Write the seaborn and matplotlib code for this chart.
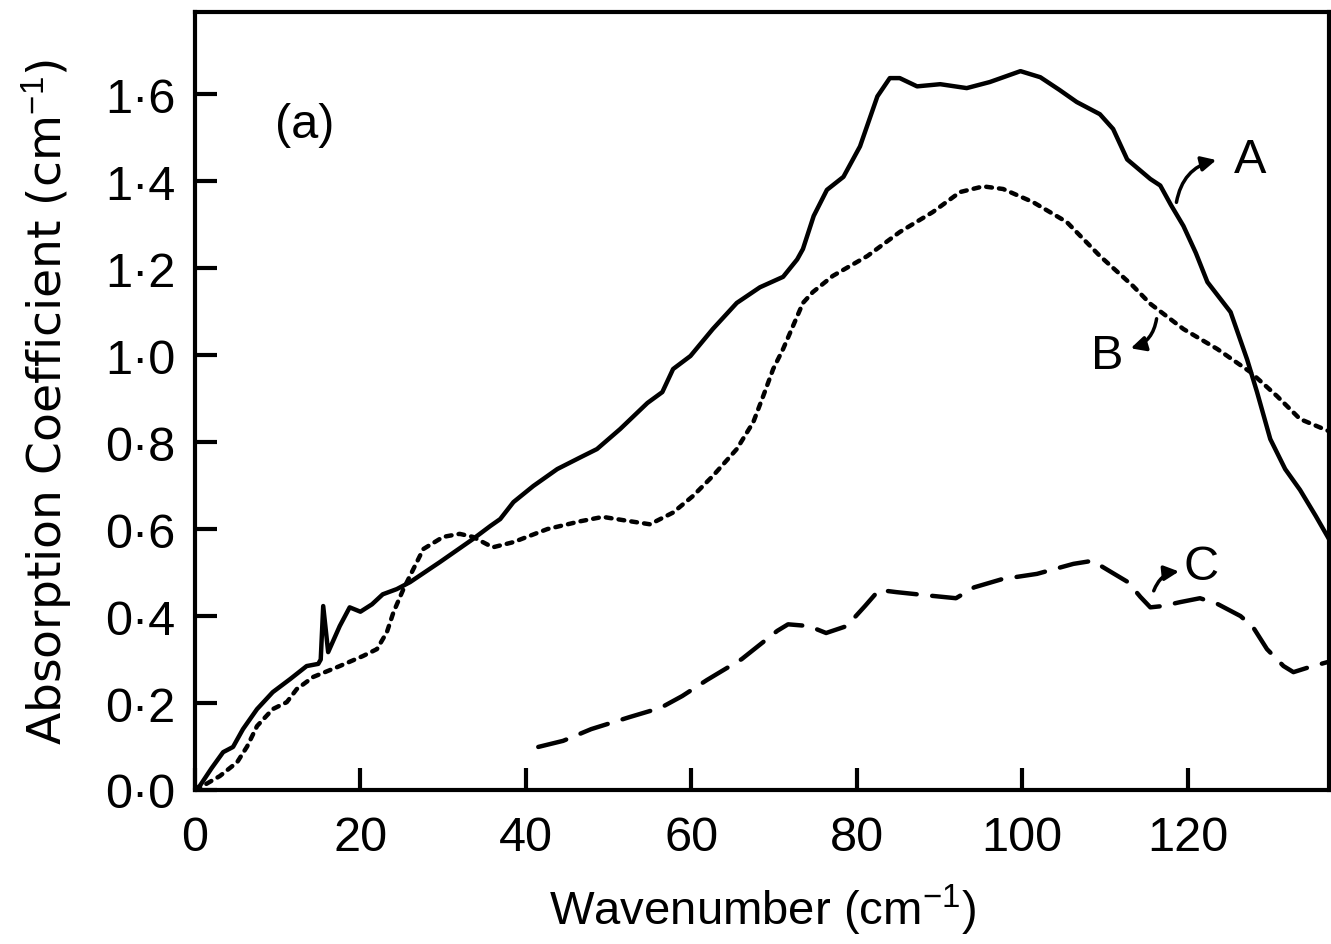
import numpy as np
import pandas as pd
import matplotlib
matplotlib.use("Agg")
import matplotlib.pyplot as plt
import seaborn as sns

# ---- data ----
A_x = [0, 0.6, 2.0, 3.4, 4.6, 5.8, 7.5, 9.4, 11.5, 13.5, 14.9, 15.2, 15.5, 16.1, 17.5, 18.7, 20.0,
       21.4, 22.7, 24.4, 26.0, 29.6, 33.6, 35.7, 36.9, 38.5, 40.9, 43.8, 46.6, 48.6, 51.4, 54.7,
       56.5, 57.8, 59.9, 62.6, 65.5, 68.3, 71.1, 72.8, 73.5, 74.8, 76.4, 78.4, 80.4, 82.5, 84.0,
       85.2, 87.3, 90.1, 93.3, 96.1, 99.8, 102.2, 104.5, 106.6, 109.4, 111.0, 112.7, 115.5, 116.7,
       118.0, 119.5, 121.0, 122.4, 125.2, 127.2, 128.4, 130.0, 131.8, 133.6, 135.5, 137.1]
A_y = [0, 0.01, 0.05, 0.087, 0.099, 0.14, 0.186, 0.225, 0.255, 0.285, 0.29, 0.30, 0.423, 0.317,
       0.377, 0.42, 0.41, 0.427, 0.45, 0.462, 0.478, 0.524, 0.577, 0.607, 0.623, 0.662, 0.699,
       0.738, 0.765, 0.784, 0.83, 0.89, 0.915, 0.968, 0.998, 1.06, 1.12, 1.156, 1.18, 1.22, 1.244,
       1.32, 1.38, 1.41, 1.48, 1.595, 1.637, 1.637, 1.618, 1.623, 1.614, 1.628, 1.653, 1.639,
       1.61, 1.582, 1.554, 1.52, 1.45, 1.405, 1.39, 1.345, 1.297, 1.235, 1.168, 1.099, 0.99,
       0.915, 0.807, 0.738, 0.69, 0.63, 0.577]

B_x = [0, 1.0, 3.0, 5.1, 6.3, 7.5, 9.4, 11.1, 12.3, 14.3, 17.5, 20.3, 22.0, 23.2, 24.0, 25.2,
       26.4, 27.6, 30.0, 32.0, 33.6, 36.0, 38.5, 42.6, 46.6, 49.3, 52.6, 55.0, 57.8, 60.2, 62.6,
       65.5, 67.5, 68.7, 69.9, 71.1, 72.3, 73.5, 74.7, 77.1, 81.3, 85.2, 89.2, 92.5, 95.3, 97.7,
       101.3, 105.4, 109.4, 113.4, 115.5, 119.5, 123.6, 127.6, 130.8, 133.6, 137.1]
B_y = [0, 0.01, 0.032, 0.064, 0.1, 0.147, 0.186, 0.202, 0.232, 0.26, 0.285, 0.308, 0.324, 0.363,
       0.409, 0.462, 0.508, 0.554, 0.582, 0.589, 0.582, 0.558, 0.57, 0.6, 0.618, 0.628, 0.618,
       0.611, 0.638, 0.676, 0.722, 0.784, 0.846, 0.906, 0.968, 1.014, 1.067, 1.12, 1.145, 1.182,
       1.228, 1.283, 1.329, 1.375, 1.388, 1.382, 1.352, 1.306, 1.228, 1.159, 1.118, 1.06, 1.014,
       0.961, 0.906, 0.853, 0.825]

C_x = [41.5, 44.5, 47.9, 52.6, 56.3, 58.9, 61.9, 66.1, 70.4, 71.7, 74.2, 76.3, 78.8, 81.0, 82.7,
       84.8, 88.3, 92.0, 94.2, 97.6, 101.8, 106.2, 108.5, 110.6, 112.8, 114.3, 115.5, 117.0,
       119.1, 121.5, 123.6, 126.4, 127.9, 129.6, 131.6, 132.8, 134.8, 136.9]
C_y = [0.099, 0.113, 0.14, 0.168, 0.189, 0.216, 0.253, 0.301, 0.366, 0.381, 0.377, 0.361, 0.377,
       0.423, 0.46, 0.455, 0.448, 0.441, 0.466, 0.485, 0.497, 0.52, 0.527, 0.503, 0.478, 0.444,
       0.42, 0.423, 0.432, 0.441, 0.428, 0.4, 0.375, 0.324, 0.285, 0.271, 0.283, 0.294]

x_ticks = [0, 20, 40, 60, 80, 100, 120]
y_ticks = [0.0, 0.2, 0.4, 0.6, 0.8, 1.0, 1.2, 1.4, 1.6]
y_tick_labels = ["0·0", "0·2", "0·4", "0·6", "0·8", "1·0", "1·2", "1·4", "1·6"]

sns.set_style("ticks")
plt.rcParams["font.family"] = ["Liberation Sans", "DejaVu Sans"]
plt.rcParams["mathtext.fontset"] = "custom"
plt.rcParams["mathtext.rm"] = "Liberation Sans"
plt.rcParams["text.color"] = "black"
plt.rcParams["axes.labelcolor"] = "black"
plt.rcParams["xtick.color"] = "black"
plt.rcParams["ytick.color"] = "black"

fig = plt.figure(figsize=(13.31, 9.45), dpi=100)
ax = fig.add_axes([195 / 1331, 1 - 791 / 945, (1329 - 195) / 1331, (791 - 13) / 945])

dfA = pd.DataFrame({"x": A_x, "y": A_y})
dfB = pd.DataFrame({"x": B_x, "y": B_y})
dfC = pd.DataFrame({"x": C_x, "y": C_y})

sns.lineplot(data=dfA, x="x", y="y", ax=ax, color="black", lw=3.2, sort=False,
             estimator=None)
sns.lineplot(data=dfB, x="x", y="y", ax=ax, color="black", lw=3.2, sort=False,
             estimator=None, linestyle=(0, (1.3, 1.6)), dash_capstyle="round")
sns.lineplot(data=dfC, x="x", y="y", ax=ax, color="black", lw=3.2, sort=False,
             estimator=None, linestyle=(0, (6.5, 3.5)), dash_capstyle="round")

ax.set_xlim(0, 137.1)
ax.set_ylim(0, 1.789)
ax.set_xticks(x_ticks)
ax.set_xticklabels([str(t) for t in x_ticks])
ax.set_yticks(y_ticks)
ax.set_yticklabels(y_tick_labels)
ax.tick_params(direction="in", length=16, width=3, labelsize=35, pad=14,
               top=False, right=False, colors="black")
ax.tick_params(axis="x", pad=18)
for s in ax.spines.values():
    s.set_linewidth(3)
    s.set_color("black")

ax.set_xlabel("Wavenumber (cm$^{-1}$)", fontsize=34, labelpad=16)
ax.set_ylabel("Absorption Coefficient (cm$^{-1}$)", fontsize=34, labelpad=22,
              family=["DejaVu Sans"])

ax.text(13.3, 1.53, "(a)", fontsize=35, ha="center", va="center")

arrow = dict(arrowstyle="-|>", color="black", lw=2.5, mutation_scale=22)
ax.annotate("", xy=(123.8, 1.45), xytext=(118.6, 1.345),
            arrowprops=dict(arrow, connectionstyle="arc3,rad=-0.35"))
ax.text(127.5, 1.45, "A", fontsize=35, ha="center", va="center")
ax.annotate("", xy=(112.8, 1.014), xytext=(116.3, 1.09),
            arrowprops=dict(arrow, connectionstyle="arc3,rad=-0.35"))
ax.text(110.3, 1.0, "B", fontsize=35, ha="center", va="center")
ax.annotate("", xy=(119.3, 0.503), xytext=(115.8, 0.452),
            arrowprops=dict(arrow, connectionstyle="arc3,rad=-0.35"))
ax.text(121.6, 0.515, "C", fontsize=35, ha="center", va="center")

fig.savefig("out.png", dpi=100, facecolor="white")
